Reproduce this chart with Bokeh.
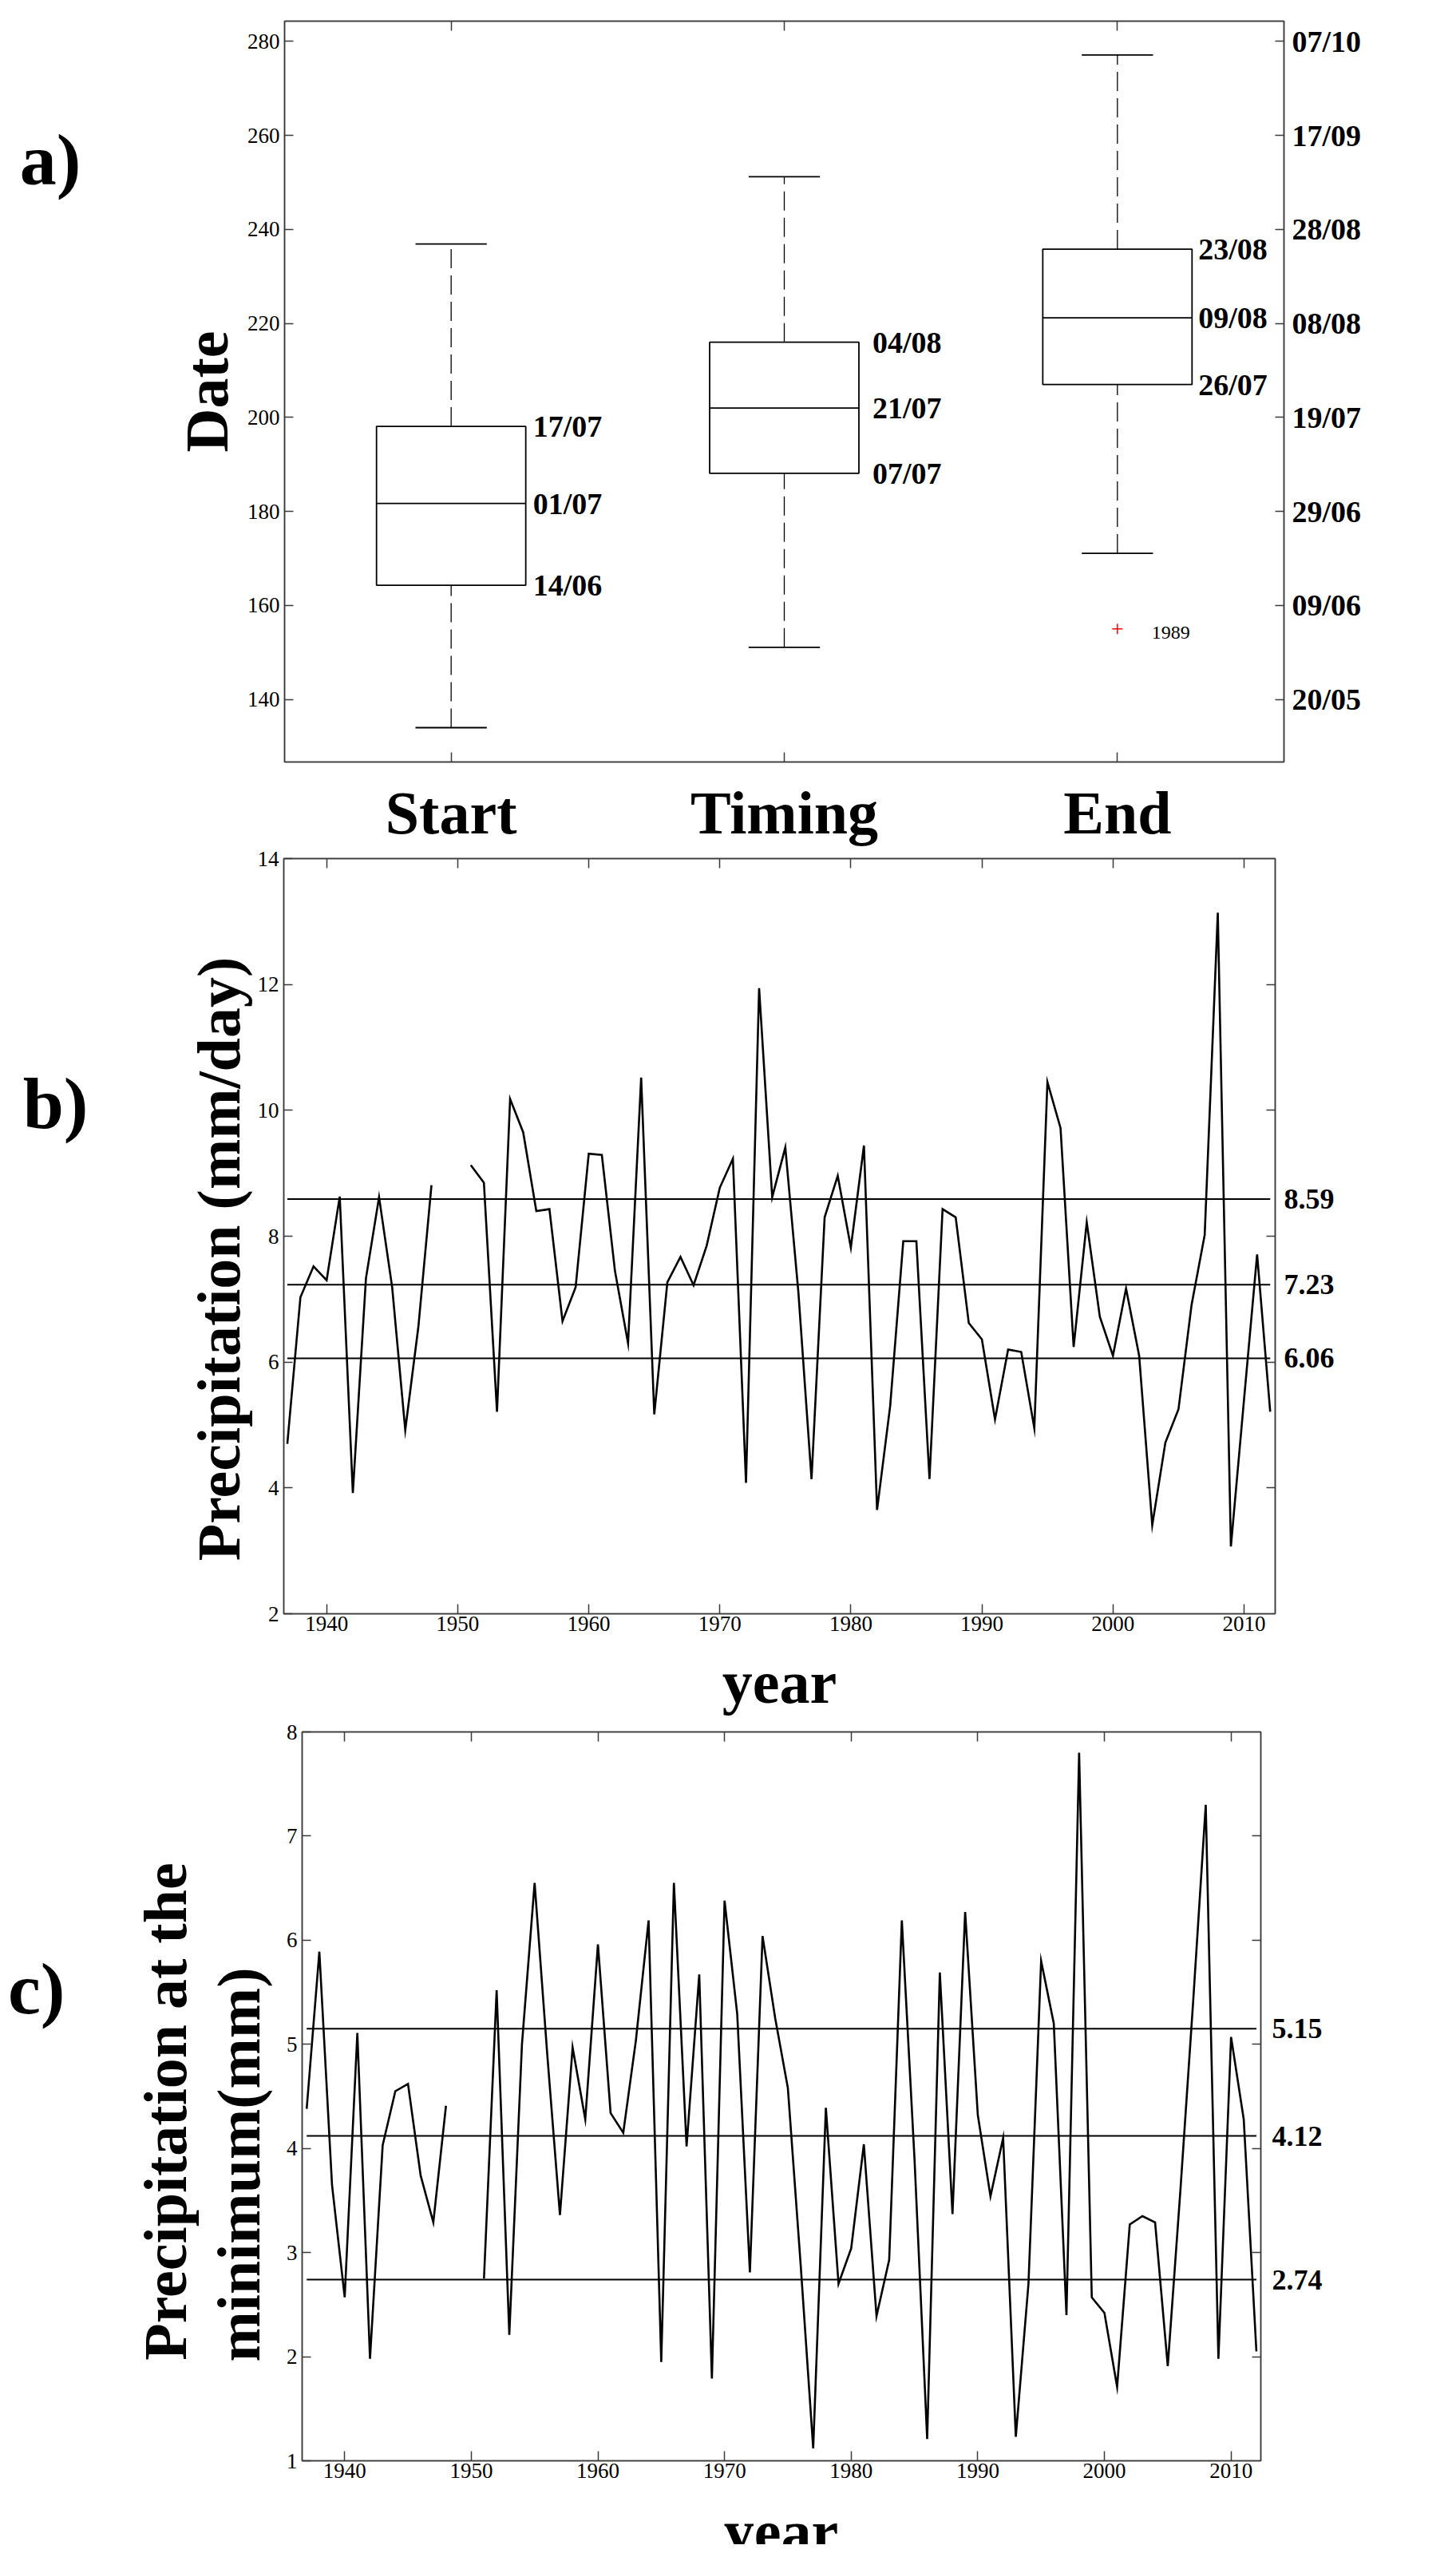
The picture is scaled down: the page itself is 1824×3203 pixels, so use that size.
import math
from bokeh.plotting import figure
from bokeh.layouts import column, row
from bokeh.models import (Range1d, LinearAxis, FixedTicker, ColumnDataSource,
                          CustomLabelingPolicy, PrintfTickFormatter)
from bokeh.core.properties import value
from bokeh.embed import file_html
from bokeh.resources import INLINE

NAN = float("nan")
SERIF = "Liberation Serif"
FRAME_COLOR = "#3a3a3a"
NBSP = "\u00a0"

# ---------------- panel a: box plots (day of year) ----------------
categories = ["Start", "Timing", "End"]
cat_pos = [1, 2, 3]
whisker_low = [134.0, 151.1, 171.1]
q1 = [164.3, 188.1, 207.0]
median = [181.7, 202.0, 221.2]
q3 = [198.1, 216.0, 235.8]
whisker_high = [236.9, 251.2, 277.1]
q1_labels = ["14/06", "07/07", "26/07"]
median_labels = ["01/07", "21/07", "09/08"]
q3_labels = ["17/07", "04/08", "23/08"]
outlier_cat = [3]
outlier_value = [155.0]
outlier_label = ["1989"]
doy_ticks = [140, 160, 180, 200, 220, 240, 260, 280]
date_ticks = ["20/05", "09/06", "29/06", "19/07", "08/08", "28/08", "17/09", "07/10"]

# ---------------- panel b: precipitation (mm/day) ----------------
years = list(range(1937, 2013))
precip = [
    4.70, 7.03, 7.52, 7.30, 8.63, 3.92, 7.33, 8.62, 7.19, 4.92,   # 1937-1946
    6.56, 8.81, NAN, NAN, 9.13, 8.85, 5.21, 10.18, 9.65, 8.40,    # 1947-1956
    8.43, 6.65, 7.19, 9.31, 9.29, 7.45, 6.30, 10.52, 5.17, 7.27,  # 1957-1966
    7.67, 7.22, 7.85, 8.77, 9.23, 4.08, 11.94, 8.62, 9.41, 7.10,  # 1967-1976
    4.14, 8.30, 8.96, 7.82, 9.44, 3.65, 5.30, 7.92, 7.92, 4.14,   # 1977-1986
    8.43, 8.30, 6.62, 6.36, 5.09, 6.20, 6.16, 4.95, 10.45, 9.72,  # 1987-1996
    6.24, 8.22, 6.72, 6.10, 7.17, 6.10, 3.41, 4.72, 5.25, 6.91,   # 1997-2006
    8.02, 13.14, 3.07, 5.40, 7.71, 5.21,                          # 2007-2012
]
precip_lines = [8.59, 7.23, 6.06]

# ---------------- panel c: precipitation at the minimum (mm) ----------------
minprecip = [
    4.38, 5.89, 3.65, 2.57, 5.11, 1.98, 4.03, 4.55, 4.62, 3.74,   # 1937-1946
    3.29, 4.41, NAN, NAN, 2.75, 5.52, 2.21, 5.00, 6.55, 4.90,     # 1947-1956
    3.36, 4.97, 4.28, 5.96, 4.34, 4.15, 5.04, 6.19, 1.95, 6.55,   # 1957-1966
    4.02, 5.67, 1.79, 6.38, 5.29, 2.81, 6.04, 5.25, 4.58, 2.90,   # 1967-1976
    1.12, 4.39, 2.70, 3.04, 4.04, 2.39, 2.93, 6.19, 3.90, 1.21,   # 1977-1986
    5.69, 3.37, 6.27, 4.32, 3.54, 4.10, 1.23, 2.70, 5.80, 5.20,   # 1987-1996
    2.40, 7.80, 2.57, 2.42, 1.71, 3.27, 3.35, 3.29, 1.91, 3.60,   # 1997-2006
    5.40, 7.30, 1.98, 5.07, 4.28, 2.05,                           # 2007-2012
]
minprecip_lines = [5.15, 4.12, 2.74]

decade_ticks = [1940, 1950, 1960, 1970, 1980, 1990, 2000, 2010]

PAGE_W = 1808
MARGIN = 8
HIDE_ALL = "return []"


class Panel:
    """A full-width figure whose plotting frame sits at given page pixel positions."""

    def __init__(self, fig_top, height, frame_left, frame_top, frame_w, frame_h, xr, yr):
        self.fl, self.ft, self.fw, self.fh = frame_left, frame_top, frame_w, frame_h
        self.xr, self.yr = xr, yr
        bl = frame_left - MARGIN
        bt = frame_top - fig_top
        p = figure(width=PAGE_W, height=height,
                   x_range=Range1d(*xr), y_range=Range1d(*yr),
                   min_border_left=bl, min_border_right=PAGE_W - bl - frame_w,
                   min_border_top=bt, min_border_bottom=height - bt - frame_h,
                   output_backend="svg", toolbar_location=None,
                   x_axis_location=None, y_axis_location=None)
        p.outline_line_color = FRAME_COLOR
        p.outline_line_width = 1.5
        p.background_fill_color = "white"
        p.border_fill_color = "white"
        p.grid.visible = False
        self.fig = p

    def py(self, y):
        return self.yr[0] + (self.ft + self.fh - y) / self.fh * (self.yr[1] - self.yr[0])


def title_strip(page_top, height, text, center_x, middle_y):
    """A full-width, axis-less strip holding an x-axis title at page pixel positions."""
    s = figure(width=PAGE_W, height=height, x_range=Range1d(0, PAGE_W),
               y_range=Range1d(0, height), output_backend="svg", toolbar_location=None,
               x_axis_location=None, y_axis_location=None,
               min_border_left=0, min_border_right=0, min_border_top=0, min_border_bottom=0)
    s.outline_line_color = None
    s.background_fill_color = "white"
    s.border_fill_color = "white"
    s.grid.visible = False
    s.text(x=[center_x - MARGIN], y=[page_top + height - middle_y], text=[text],
           text_font=value(SERIF), text_font_size=value("76px"), text_font_style="bold",
           text_color="black", text_align="center", text_baseline="middle")
    return s


def add_axis(p, side, ticks, font_px=27, bold=False, standoff=6, tick_in=11,
             overrides=None, hidden=False, line=True, formatter=None):
    ax = LinearAxis(ticker=FixedTicker(ticks=ticks, minor_ticks=[]))
    if formatter is not None:
        ax.formatter = formatter
    ax.major_tick_in = tick_in
    ax.major_tick_out = 0
    ax.minor_tick_in = 0
    ax.minor_tick_out = 0
    ax.axis_line_color = FRAME_COLOR if line else None
    ax.axis_line_width = 1.5
    ax.major_tick_line_color = FRAME_COLOR if tick_in > 0 else None
    ax.major_tick_line_width = 1.5
    ax.major_label_text_font = SERIF
    ax.major_label_text_color = "black"
    ax.major_label_text_font_style = "bold" if bold else "normal"
    if hidden:
        ax.major_label_text_font_size = "0px"
        ax.major_label_standoff = 0
        ax.major_label_policy = CustomLabelingPolicy(code=HIDE_ALL)
    else:
        ax.major_label_text_font_size = f"{font_px}px"
        ax.major_label_standoff = standoff
    if overrides:
        ax.major_label_overrides = overrides
    p.add_layout(ax, side)
    return ax


def set_title(ax, text, size=76, standoff=10, line_height=None):
    ax.axis_label = text
    ax.axis_label_text_font = SERIF
    ax.axis_label_text_font_size = f"{size}px"
    ax.axis_label_text_font_style = "bold"
    ax.axis_label_text_color = "black"
    ax.axis_label_standoff = standoff
    if line_height is not None:
        ax.axis_label_text_line_height = line_height


def add_letter(panel, letter, center_y_px, standoff):
    """Panel letter as the single label of an outer, tick-less left axis."""
    add_axis(panel.fig, "left", [panel.py(center_y_px)], font_px=92, bold=True,
             standoff=standoff, tick_in=0, line=False,
             formatter=PrintfTickFormatter(format=letter))


# ====================== panel a ======================
pa = Panel(fig_top=8, height=1062, frame_left=364, frame_top=34, frame_w=1252, frame_h=928,
           xr=(0.5, 3.5), yr=(126.7, 284.3))
a = pa.fig
add_axis(a, "below", cat_pos, font_px=76, bold=True, standoff=21, tick_in=12,
         overrides={c: n for c, n in zip(cat_pos, categories)})
add_axis(a, "above", cat_pos, tick_in=12, hidden=True)
ay = add_axis(a, "left", doy_ticks, font_px=27, standoff=6)
set_title(ay, "Date", standoff=6)
add_axis(a, "right", doy_ticks, font_px=38, bold=True, standoff=10,
         overrides={t: d for t, d in zip(doy_ticks, date_ticks)})
add_letter(pa, "a)", 207, 112)

BOX_HALF = 0.224
CAP_HALF = 0.107
LABEL_DX = [9, 17, 8]
box_src = ColumnDataSource(dict(
    x=cat_pos,
    left=[c - BOX_HALF for c in cat_pos],
    right=[c + BOX_HALF for c in cat_pos],
    cap_l=[c - CAP_HALF for c in cat_pos],
    cap_r=[c + CAP_HALF for c in cat_pos],
    q1=q1, med=median, q3=q3, lo=whisker_low, hi=whisker_high,
    q1_lab=q1_labels, med_lab=median_labels, q3_lab=q3_labels,
    xoff=LABEL_DX,
))
a.segment(x0="x", x1="x", y0="q3", y1="hi", source=box_src,
          line_color="black", line_width=1.3, line_dash="24 9")
a.segment(x0="x", x1="x", y0="lo", y1="q1", source=box_src,
          line_color="black", line_width=1.3, line_dash="24 9")
a.segment(x0="cap_l", x1="cap_r", y0="hi", y1="hi", source=box_src,
          line_color="black", line_width=1.8)
a.segment(x0="cap_l", x1="cap_r", y0="lo", y1="lo", source=box_src,
          line_color="black", line_width=1.8)
a.quad(left="left", right="right", bottom="q1", top="q3", source=box_src,
       fill_color=None, line_color="black", line_width=1.8)
a.segment(x0="left", x1="right", y0="med", y1="med", source=box_src,
          line_color="black", line_width=1.8)
for col in ["q1", "med", "q3"]:
    a.text(x="right", y=col, text=col + "_lab", x_offset="xoff", source=box_src,
           text_font=value(SERIF), text_font_size=value("38px"), text_font_style="bold",
           text_align="left", text_baseline="middle", text_color="black")
a.scatter(x=outlier_cat, y=outlier_value, marker="cross", size=13,
          line_color="red", line_width=1.5)
a.text(x=outlier_cat, y=outlier_value, text=outlier_label, x_offset=43, y_offset=5,
       text_font=value(SERIF), text_font_size=value("24px"),
       text_align="left", text_baseline="middle", text_color="black")

# ====================== panel b ======================
B_TOP, B_H = 1070, 995
pb = Panel(fig_top=B_TOP, height=B_H, frame_left=363, frame_top=1083, frame_w=1242, frame_h=946,
           xr=(1936.73, 2012.38), yr=(2, 14))
b = pb.fig
add_axis(b, "below", decade_ticks, font_px=27, standoff=3, tick_in=12)
add_axis(b, "above", decade_ticks, tick_in=12, hidden=True)
by = add_axis(b, "left", [2, 4, 6, 8, 10, 12, 14], font_px=27, standoff=6)
set_title(by, "Precipitation (mm/day)" + NBSP * 3, standoff=4)
add_axis(b, "right", [4, 6, 8, 10, 12], tick_in=11, hidden=True)
add_axis(b, "right", precip_lines, font_px=36, bold=True, standoff=11, tick_in=0, line=False,
         overrides={v: f"{v:.2f}" for v in precip_lines})
add_letter(pb, "b)", 1389, 118)
b.segment(x0=[years[0]] * len(precip_lines), x1=[years[-1]] * len(precip_lines),
          y0=precip_lines, y1=precip_lines, line_color="black", line_width=2)
b.line(x=years, y=precip, line_color="black", line_width=2.6, line_join="miter")

SB_TOP = B_TOP + B_H
C_TOP = 2160
sb = title_strip(SB_TOP, C_TOP - SB_TOP, "year", 984, 2114)

# ====================== panel c ======================
C_H = 3130 - C_TOP
pc = Panel(fig_top=C_TOP, height=C_H, frame_left=386, frame_top=2177, frame_w=1201, frame_h=913,
           xr=(1936.64, 2012.35), yr=(1, 8))
c = pc.fig
add_axis(c, "below", decade_ticks, font_px=27, standoff=3, tick_in=12)
add_axis(c, "above", decade_ticks, tick_in=12, hidden=True)
cy = add_axis(c, "left", [1, 2, 3, 4, 5, 6, 7, 8], font_px=27, standoff=6)
set_title(cy, "Precipitation at the" + NBSP * 2 + "\n" + "minimum(mm)" + NBSP * 9,
          standoff=15, line_height=1.1)
add_axis(c, "right", [2, 3, 4, 5, 6, 7], tick_in=11, hidden=True)
add_axis(c, "right", minprecip_lines, font_px=36, bold=True, standoff=14, tick_in=0, line=False,
         overrides={v: f"{v:.2f}" for v in minprecip_lines})
add_letter(pc, "c)", 2498, 80)
c.segment(x0=[years[0]] * len(minprecip_lines), x1=[years[-1]] * len(minprecip_lines),
          y0=minprecip_lines, y1=minprecip_lines, line_color="black", line_width=2)
c.line(x=years, y=minprecip, line_color="black", line_width=2.6, line_join="miter")

# x-axis title of panel c, cut by the page bottom as in the reference
SC_TOP = C_TOP + C_H
sc = title_strip(SC_TOP, 3195 - SC_TOP, "year", 986, 3178)

# each figure in its own row, so that their frames are not aligned with one another
layout = column(row(a), row(b), row(sb), row(c), row(sc), spacing=0)
open("out.html", "w").write(file_html(layout, INLINE))
